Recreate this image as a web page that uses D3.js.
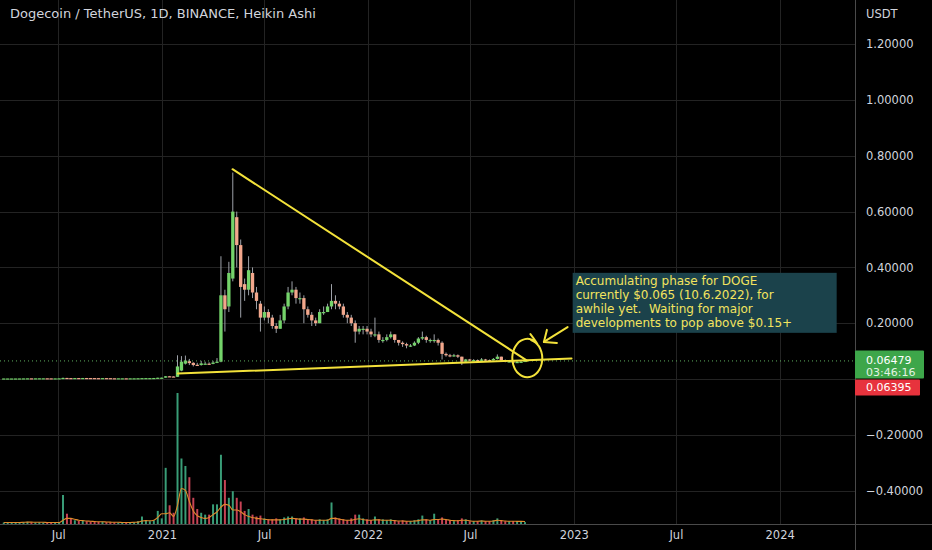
<!DOCTYPE html>
<html><head><meta charset="utf-8">
<script src="https://cdn.jsdelivr.net/npm/d3@7"></script>
<style>html,body{margin:0;padding:0;background:#000;}svg{display:block;}</style>
</head><body>
<svg id="chart" width="932" height="550"></svg>
<script>
// ---------- DATA ----------
const title = "Dogecoin / TetherUS, 1D, BINANCE, Heikin Ashi";
const currency = "USDT";
const firstWeek = "2020-03-23";
const lastWeek = "2022-10-03";
// weekly Heikin Ashi candles (USDT)
const opens = [
0.0019,0.0020,0.0020,0.0020,0.0020,0.0021,0.0023,0.0025,0.0024,0.0025,
0.0026,0.0026,0.0025,0.0024,0.0024,0.0025,0.0038,0.0034,0.0033,0.0035,
0.0033,0.0036,0.0035,0.0034,0.0032,0.0030,0.0033,0.0031,0.0027,0.0026,
0.0026,0.0026,0.0025,0.0026,0.0026,0.0028,0.0032,0.0033,0.0033,0.0036,
0.0045,
0.0047,0.0098,0.0091,0.0078,0.030,0.055,0.064,0.058,0.051,0.050,
0.055,0.055,0.054,0.058,0.062,0.30,0.26,0.36,0.58,0.48,
0.34,0.32,0.38,0.31,0.27,0.22,0.24,0.22,0.19,0.18,
0.21,0.26,0.31,0.32,0.29,0.29,0.25,0.23,0.21,0.20,
0.24,0.24,0.26,0.28,0.27,0.26,0.23,0.22,0.20,0.17,
0.18,0.18,
0.17,0.16,0.16,0.14,0.14,0.15,0.16,0.14,0.13,0.125,
0.12,0.12,0.13,0.145,0.15,0.14,0.14,0.14,0.13,0.09,
0.085,0.083,0.085,0.08,0.062,0.07,0.067,0.068,0.065,0.07,
0.068,0.067,0.072,0.08,0.068,0.063,0.063,0.061,0.061,0.062];
const closes = [
0.0020,0.0020,0.0020,0.0020,0.0021,0.0023,0.0025,0.0024,0.0025,0.0026,
0.0026,0.0025,0.0024,0.0024,0.0025,0.0038,0.0034,0.0033,0.0035,0.0033,
0.0036,0.0035,0.0034,0.0032,0.0030,0.0033,0.0031,0.0027,0.0026,0.0026,
0.0026,0.0025,0.0026,0.0026,0.0028,0.0032,0.0033,0.0033,0.0036,0.0045,
0.0047,
0.0098,0.0091,0.0078,0.045,0.062,0.066,0.057,0.050,0.050,0.056,
0.055,0.054,0.059,0.062,0.30,0.25,0.38,0.60,0.48,0.33,
0.32,0.39,0.31,0.28,0.22,0.24,0.22,0.19,0.18,0.21,
0.26,0.31,0.32,0.29,0.29,0.25,0.23,0.21,0.20,0.24,
0.24,0.26,0.28,0.27,0.26,0.23,0.22,0.20,0.17,0.18,
0.18,0.17,
0.16,0.16,0.14,0.14,0.15,0.16,0.14,0.13,0.125,0.12,
0.12,0.13,0.145,0.15,0.14,0.14,0.14,0.13,0.09,0.085,
0.083,0.085,0.08,0.062,0.07,0.067,0.068,0.065,0.07,0.068,
0.067,0.072,0.08,0.068,0.063,0.063,0.061,0.061,0.062,0.065];
const highs = [
0.0021,0.0021,0.0021,0.0021,0.0022,0.0024,0.0026,0.0026,0.0026,0.0027,
0.0027,0.0027,0.0026,0.0025,0.0026,0.0050,0.0040,0.0036,0.0036,0.0036,
0.0038,0.0037,0.0036,0.0035,0.0033,0.0034,0.0034,0.0032,0.0028,0.0027,
0.0027,0.0027,0.0027,0.0027,0.0030,0.0035,0.0035,0.0035,0.0038,0.0047,
0.0058,
0.0105,0.0110,0.0095,0.085,0.082,0.084,0.072,0.060,0.058,0.065,
0.062,0.060,0.065,0.075,0.44,0.32,0.42,0.74,0.60,0.50,
0.36,0.44,0.40,0.33,0.28,0.26,0.25,0.23,0.20,0.23,
0.27,0.33,0.35,0.33,0.31,0.30,0.26,0.24,0.22,0.25,
0.26,0.27,0.34,0.30,0.28,0.27,0.24,0.23,0.21,0.19,
0.19,0.19,
0.18,0.22,0.17,0.15,0.16,0.17,0.16,0.14,0.135,0.13,
0.125,0.135,0.15,0.17,0.155,0.145,0.16,0.145,0.135,0.095,
0.09,0.09,0.088,0.08,0.072,0.072,0.071,0.07,0.075,0.072,
0.07,0.075,0.088,0.08,0.07,0.066,0.066,0.064,0.064,0.066];
const lows = [
0.0017,0.0019,0.0019,0.0019,0.0020,0.0021,0.0022,0.0023,0.0023,0.0024,
0.0025,0.0024,0.0023,0.0023,0.0023,0.0024,0.0032,0.0031,0.0032,0.0032,
0.0032,0.0033,0.0032,0.0031,0.0028,0.0029,0.0029,0.0026,0.0025,0.0025,
0.0025,0.0024,0.0024,0.0025,0.0025,0.0027,0.0030,0.0031,0.0032,0.0035,
0.0042,
0.0045,0.0080,0.0070,0.0075,0.028,0.052,0.050,0.045,0.047,0.048,
0.052,0.051,0.053,0.057,0.060,0.17,0.24,0.35,0.40,0.22,
0.28,0.30,0.29,0.25,0.17,0.21,0.20,0.18,0.165,0.18,
0.20,0.25,0.30,0.27,0.27,0.20,0.22,0.19,0.19,0.20,
0.23,0.24,0.25,0.25,0.25,0.22,0.20,0.19,0.13,0.16,
0.16,0.16,
0.15,0.15,0.13,0.13,0.135,0.145,0.13,0.12,0.115,0.11,
0.115,0.118,0.125,0.14,0.13,0.13,0.13,0.12,0.07,0.08,
0.078,0.08,0.075,0.05,0.06,0.064,0.064,0.062,0.064,0.065,
0.064,0.066,0.07,0.066,0.06,0.06,0.058,0.059,0.059,0.061];
// weekly peak volume (billion DOGE) and its moving average
const volumes = [
0.8,0.7,0.7,0.8,0.9,1.0,1.2,0.9,0.8,0.9,0.8,0.8,0.7,0.7,0.9,
15.5,5.5,3.0,2.0,1.6,1.8,1.5,1.3,1.2,1.1,1.2,1.0,0.9,0.9,0.8,
0.8,0.8,0.9,1.0,1.5,4.0,2.0,1.5,2.0,7.0,3.0,
30,10,6,70,35,31,25,14,8,6,
5,5,10.5,10.5,37,23.5,14,17.5,14,12,
7,8,5,4,4.5,3,2.5,2.5,3,2.5,
3.5,4,4,3,3,3.5,2.5,2.5,2,2.5,
2,2.5,11.5,3.5,3,2.5,2,3,5,5,
3,2.5,
2,4,2.5,2.5,2,2.5,2,1.5,2,1.5,
1.5,2,2.5,4.5,2.5,2,5.5,2.5,3.5,2.5,
2,1.5,2,3,2.5,1.5,1.5,1.5,2,1.5,
1.5,2,3,2,1.5,1.5,1.5,1.5,1.5,1];
const volumeMA = [
0.8,0.8,0.8,0.8,0.8,0.9,1.0,1.0,0.9,0.9,0.9,0.8,0.8,0.8,0.8,
2.0,3.0,3.0,2.5,2.0,1.8,1.6,1.5,1.3,1.2,1.2,1.1,1.0,0.9,0.9,
0.8,0.8,0.8,0.9,1.0,1.6,1.8,1.7,2.0,3.5,5.5,
5.5,6,4,10,19,18,12,7,4.5,3.5,
3,3.5,5,6.5,9,10.5,10,7.5,7.5,6.5,
5,4,3.5,3,2.8,2.5,2.3,2.2,2.2,2.2,
2.4,2.8,3,2.8,2.6,2.6,2.4,2.2,2,2,
2,2,3,3,2.5,2.2,2,2,2.5,2.8,
2.3,2,
2,2.2,2.2,2,2,2,1.8,1.6,1.6,1.5,
1.5,1.6,1.8,2.2,2.2,2,2.4,2.4,2.6,2.4,
2,1.8,1.7,2,2,1.7,1.5,1.5,1.6,1.5,
1.5,1.6,2,1.8,1.6,1.5,1.5,1.4,1.4,1.3];
// axes
const priceTicks = [1.2, 1.0, 0.8, 0.6, 0.4, 0.2, 0, -0.2, -0.4];
const priceTickLabels = ["1.20000","1.00000","0.80000","0.60000","0.40000","0.20000","","\u22120.20000","\u22120.40000"];
const timeTicks = ["2020-07-01","2021-01-01","2021-07-01","2022-01-01","2022-07-01","2023-01-01","2023-07-01","2024-01-01"];
const timeTickLabels = ["Jul","2021","Jul","2022","Jul","2023","Jul","2024"];
// price scale labels
const lastPrice = 0.06479;
const lastPriceLabel = "0.06479";
const countdownLabel = "03:46:16";
const prevCloseLabel = "0.06395";
// drawings
const upperTrend = [{date:"2021-05-06", price:0.752}, {date:"2022-10-10", price:0.066}];
const lowerTrend = [{date:"2021-01-29", price:0.0195}, {date:"2022-12-28", price:0.0735}];
const circleMark = {date:"2022-10-09", price:0.075};
const arrowMark = {from:{date:"2022-12-21", price:0.186}, to:{date:"2022-11-09", price:0.133}};
const noteAnchor = {date:"2022-12-30", price:0.3805};
const noteLines = ["Accumulating phase for DOGE","currently $0.065 (10.6.2022), for","awhile yet.  Waiting for major","developments to pop above $0.15+"];

// ---------- CHART ----------
const W = 932, H = 550, plotRight = 855, paneBottom = 524;
const svg = d3.select("#chart");
const parse = d3.utcParse("%Y-%m-%d");
const FONT = "DejaVu Sans";

svg.append("rect").attr("width", W).attr("height", H).attr("fill", "#000");

const x = d3.scaleUtc().domain([parse("2021-01-01"), parse("2022-07-01")]).range([162, 470]);
const y = d3.scaleLinear().domain([-0.4, 1.2]).range([490.6, 44.2]);
const yVol = d3.scaleLinear().domain([0, 70]).range([paneBottom, paneBottom - 131]);

const weeks = d3.utcMonday.range(parse(firstWeek), d3.utcDay.offset(parse(lastWeek), 1));
const candles = weeks.map((d, i) => ({date: d, mid: d3.utcHour.offset(d, 84), o: opens[i], c: closes[i], h: highs[i], l: lows[i], v: volumes[i], ma: volumeMA[i]}));

// grid
const grid = svg.append("g");
grid.selectAll("line.v").data(timeTicks).join("line")
  .attr("x1", d => Math.round(x(parse(d))) + 0.5).attr("x2", d => Math.round(x(parse(d))) + 0.5)
  .attr("y1", 0).attr("y2", paneBottom).attr("stroke", "#232323").attr("stroke-width", 1);
grid.selectAll("line.h").data(priceTicks).join("line")
  .attr("x1", 0).attr("x2", plotRight)
  .attr("y1", d => Math.round(y(d)) + 0.5).attr("y2", d => Math.round(y(d)) + 0.5)
  .attr("stroke", "#232323").attr("stroke-width", 1);

// volume
const volG = svg.append("g");
const step = x(d3.utcDay.offset(parse("2021-01-01"), 7)) - x(parse("2021-01-01"));
volG.selectAll("rect").data(candles).join("rect")
  .attr("x", d => x(d.mid) - step * 0.25).attr("width", step * 0.5)
  .attr("y", d => yVol(d.v)).attr("height", d => paneBottom - yVol(d.v))
  .attr("fill", d => d.c >= d.o ? "#3fae84" : "#dd4a5e").attr("opacity", 0.9);
volG.append("path").datum(candles)
  .attr("d", d3.line().x(d => x(d.mid)).y(d => yVol(d.ma)).curve(d3.curveMonotoneX))
  .attr("fill", "none").attr("stroke", "#e08a2c").attr("stroke-width", 1.1);

// candles
const cg = svg.append("g");
cg.selectAll("line").data(candles).join("line")
  .attr("x1", d => x(d.mid)).attr("x2", d => x(d.mid))
  .attr("y1", d => y(d.h)).attr("y2", d => y(d.l))
  .attr("stroke", "#9da1a8").attr("stroke-width", 1);
cg.selectAll("rect").data(candles).join("rect")
  .attr("x", d => x(d.mid) - step * 0.42).attr("width", step * 0.84)
  .attr("y", d => y(Math.max(d.o, d.c)))
  .attr("height", d => Math.max(1.2, Math.abs(y(d.o) - y(d.c))))
  .attr("fill", d => d.c >= d.o ? "#74d36a" : "#f2a78c");

// last price dotted line
svg.append("line").attr("x1", 0).attr("x2", plotRight)
  .attr("y1", y(lastPrice)).attr("y2", y(lastPrice))
  .attr("stroke", "#5fae60").attr("stroke-width", 1).attr("stroke-dasharray", "1,3");

// trend lines
const yellow = "#f3e23a";
[upperTrend, lowerTrend].forEach(t => {
  svg.append("line")
    .attr("x1", x(parse(t[0].date))).attr("y1", y(t[0].price))
    .attr("x2", x(parse(t[1].date))).attr("y2", y(t[1].price))
    .attr("stroke", yellow).attr("stroke-width", 2).attr("stroke-linecap", "round");
});

// hand-drawn circle
const cx = x(parse(circleMark.date)), cy = y(circleMark.price);
const loopPts = d3.range(0, 23).map(k => {
  const a = -1.25 + k * (2 * Math.PI + 0.5) / 22;
  const r = 1 + 0.06 * Math.sin(k / 3);
  return [cx + 15 * r * Math.cos(a), cy + 19 * r * Math.sin(a)];
});
loopPts.push([cx + 4, cy - 24]);
svg.append("path").attr("d", d3.line().curve(d3.curveCatmullRom)(loopPts))
  .attr("fill", "none").attr("stroke", yellow).attr("stroke-width", 2).attr("stroke-linecap", "round");

// arrow
const ax1 = x(parse(arrowMark.from.date)), ay1 = y(arrowMark.from.price);
const ax2 = x(parse(arrowMark.to.date)), ay2 = y(arrowMark.to.price);
svg.append("line").attr("x1", ax1).attr("y1", ay1).attr("x2", ax2).attr("y2", ay2)
  .attr("stroke", yellow).attr("stroke-width", 2).attr("stroke-linecap", "round");
svg.append("path").attr("d", `M${ax2 + 3},${ay2 - 12} L${ax2},${ay2} L${ax2 + 13},${ay2 + 1}`)
  .attr("fill", "none").attr("stroke", yellow).attr("stroke-width", 2)
  .attr("stroke-linecap", "round").attr("stroke-linejoin", "round");

// note box
const nx = x(parse(noteAnchor.date)), ny = y(noteAnchor.price);
svg.append("rect").attr("x", nx).attr("y", ny).attr("width", 264).attr("height", 60).attr("fill", "#1b424b");
svg.append("g").selectAll("text").data(noteLines).join("text")
  .attr("x", nx + 3).attr("y", (d, i) => ny + 12.5 + i * 14)
  .attr("xml:space", "preserve").style("white-space", "pre")
  .attr("font-family", FONT).attr("font-size", 12).attr("fill", "#f3e45f")
  .text(d => d);

// axis separators
svg.append("line").attr("x1", plotRight + 0.5).attr("x2", plotRight + 0.5).attr("y1", 0).attr("y2", H)
  .attr("stroke", "#4a4a4a");
svg.append("line").attr("x1", 0).attr("x2", W).attr("y1", paneBottom + 0.5).attr("y2", paneBottom + 0.5)
  .attr("stroke", "#4a4a4a");

// right axis
const yAxis = d3.axisRight(y).tickValues(priceTicks).tickSize(0).tickPadding(11)
  .tickFormat((d, i) => priceTickLabels[i]);
const ya = svg.append("g").attr("transform", `translate(${plotRight},0)`).call(yAxis);
ya.select(".domain").remove();
ya.selectAll("text").attr("font-family", FONT).attr("font-size", 11.5).attr("fill", "#d1d4dc");

// bottom axis
const xAxis = d3.axisBottom(x).tickValues(timeTicks.map(parse)).tickSize(0).tickPadding(7)
  .tickFormat((d, i) => timeTickLabels[i]);
const xa = svg.append("g").attr("transform", `translate(0,${paneBottom})`).call(xAxis);
xa.select(".domain").remove();
xa.selectAll("text").attr("font-family", FONT).attr("font-size", 11.5).attr("fill", "#d1d4dc");

// price labels on scale
const ly = y(lastPrice);
svg.append("rect").attr("x", plotRight).attr("y", ly - 10.5).attr("width", 69).attr("height", 28).attr("fill", "#3da64a").attr("rx", 1);
svg.append("text").attr("x", plotRight + 11).attr("y", ly + 3).text(lastPriceLabel)
  .attr("font-family", FONT).attr("font-size", 11).attr("fill", "#fff");
svg.append("text").attr("x", plotRight + 11).attr("y", ly + 15.5).text(countdownLabel)
  .attr("font-family", FONT).attr("font-size", 11).attr("fill", "#e4f3e4");
svg.append("rect").attr("x", plotRight).attr("y", ly + 18.5).attr("width", 65).attr("height", 16).attr("fill", "#e7333d").attr("rx", 1);
svg.append("text").attr("x", plotRight + 11).attr("y", ly + 30.5).text(prevCloseLabel)
  .attr("font-family", FONT).attr("font-size", 11).attr("fill", "#fff");

// title and currency
svg.append("text").attr("x", 10).attr("y", 18).text(title)
  .attr("font-family", FONT).attr("font-size", 13).attr("fill", "#d1d4dc");
svg.append("text").attr("x", 866).attr("y", 18).text(currency)
  .attr("font-family", FONT).attr("font-size", 11.5).attr("fill", "#d1d4dc");
</script>
</body></html>
